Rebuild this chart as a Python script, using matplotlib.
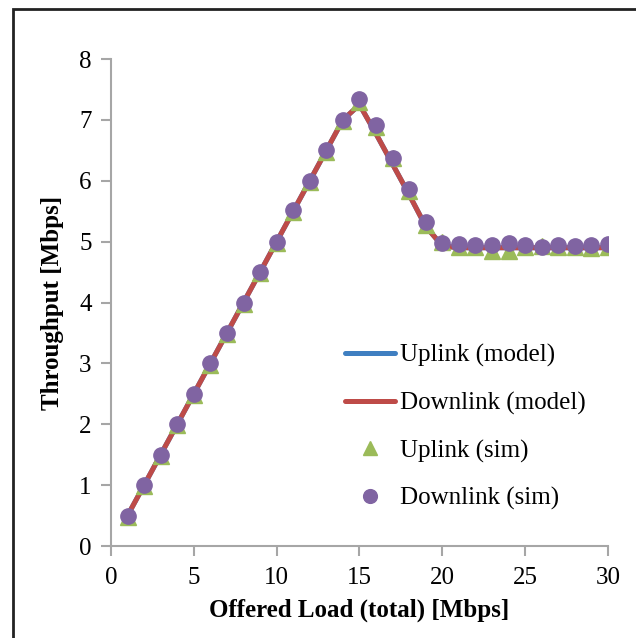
import matplotlib
matplotlib.use('Agg')
import matplotlib.pyplot as plt
from matplotlib.patches import Rectangle

# Offered load (x) and throughput values
offered_load = list(range(1, 31))
uplink_model = [0.5, 1.0, 1.5, 2.0, 2.5, 3.0, 3.5, 4.0, 4.5, 5.0,
                5.5, 6.0, 6.5, 7.0, 7.25, 6.77, 6.27, 5.77, 5.25, 4.93,
                4.9, 4.9, 4.9, 4.9, 4.9, 4.9, 4.9, 4.9, 4.9, 4.9]
downlink_model = [0.5, 1.0, 1.5, 2.0, 2.5, 3.0, 3.5, 4.0, 4.5, 5.0,
                  5.5, 6.0, 6.5, 7.0, 7.25, 6.77, 6.27, 5.77, 5.25, 4.93,
                  4.9, 4.9, 4.9, 4.9, 4.9, 4.9, 4.9, 4.9, 4.9, 4.9]
uplink_sim = [0.48, 0.98, 1.48, 1.98, 2.48, 2.98, 3.48, 3.98, 4.48, 4.98,
              5.48, 5.98, 6.48, 6.98, 7.3, 6.88, 6.38, 5.83, 5.28, 5.0,
              4.91, 4.91, 4.84, 4.85, 4.91, 4.93, 4.91, 4.91, 4.89, 4.91]
downlink_sim = [0.5, 1.0, 1.5, 2.0, 2.5, 3.0, 3.5, 4.0, 4.5, 5.0,
                5.52, 6.0, 6.5, 7.0, 7.34, 6.92, 6.37, 5.87, 5.33, 4.98,
                4.96, 4.95, 4.95, 4.97, 4.94, 4.91, 4.95, 4.93, 4.95, 4.96]

plt.rcParams['font.family'] = ['Liberation Serif', 'DejaVu Serif']

fig = plt.figure(figsize=(6.36, 6.38), dpi=100)
ax = fig.add_axes([0.1745, 0.1442, 0.956 - 0.1745, 0.9075 - 0.1442])

#Model lines (blue underneath red)
ax.plot(offered_load, uplink_model, color='#3F7FC1', linewidth=3.6,
        solid_capstyle='round', label='Uplink (model)')
ax.plot(offered_load, downlink_model, color='#BE4B48', linewidth=3.6,
        solid_capstyle='round', label='Downlink (model)')
#Simulation markers
ax.plot(offered_load, uplink_sim, linestyle='none', marker='^', markersize=11,
        color='#9BBB59', label='Uplink (sim)')
ax.plot(offered_load, downlink_sim, linestyle='none', marker='o', markersize=11,
        color='#8064A2', label='Downlink (sim)')

ax.set_xlim(0, 30)
ax.set_ylim(0, 8)
ax.set_xticks(range(0, 31, 5))
ax.set_yticks(range(0, 9))

for side in ['top', 'right']:
    ax.spines[side].set_visible(False)
for side in ['left', 'bottom']:
    ax.spines[side].set_color('#A6A6A6')
    ax.spines[side].set_linewidth(1.5)
ax.tick_params(direction='out', length=7, width=1.5, color='#A6A6A6',
               labelsize=18, labelcolor='black', pad=8)
ax.tick_params(axis='y', pad=7)

ax.set_xlabel('Offered Load (total) [Mbps]', fontsize=18, fontweight='bold', labelpad=7)
ax.set_ylabel('Throughput [Mbps]', fontsize=18, fontweight='bold', labelpad=11)

ax.legend(loc='upper left', bbox_to_anchor=(0.527, 0.476), bbox_transform=fig.transFigure,
          frameon=False, fontsize=18, handlelength=2.0, labelspacing=0.98,
          handletextpad=0.2, borderaxespad=0, markerscale=0.9)

#Outer frame (clipped on right and bottom)
fig.patches.append(Rectangle((13 / 636, -0.1), 2, 1 - 9 / 638 + 0.1,
                             transform=fig.transFigure, fill=False,
                             edgecolor='#222222', linewidth=2))

plt.savefig('out.png', dpi=100)
